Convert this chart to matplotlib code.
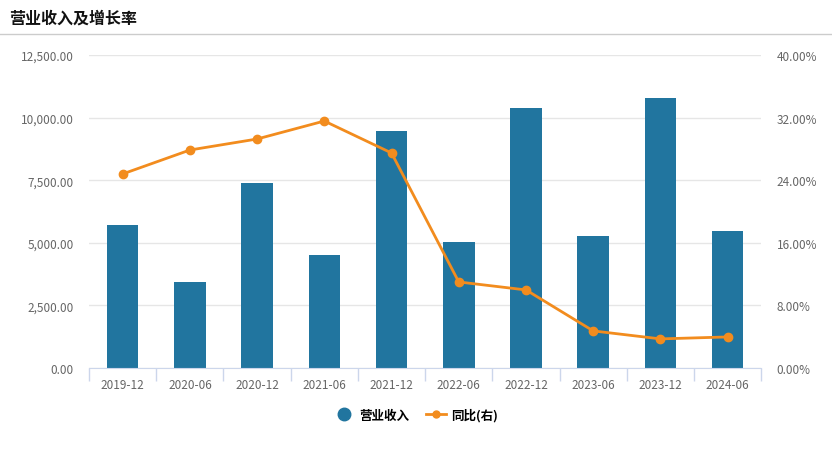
import numpy as np
import matplotlib.pyplot as plt
from matplotlib.lines import Line2D
from matplotlib.ticker import FuncFormatter, FixedLocator

plt.rcParams['font.family'] = ['Noto Sans CJK SC', 'DejaVu Sans']

periods = ['2019-12', '2020-06', '2020-12', '2021-06', '2021-12',
           '2022-06', '2022-12', '2023-06', '2023-12', '2024-06']
revenue = [5710, 3435, 7390, 4510, 9465, 5030, 10385, 5270, 10780, 5470]
growth = [24.8, 27.86, 29.27, 31.57, 27.48, 10.99, 9.97, 4.73, 3.71, 3.96]

bar_color = '#21759f'
line_color = '#f28c1e'
tick_color = '#666666'
axis_color = '#ccd6eb'

fig = plt.figure(figsize=(8.32, 4.56), dpi=100)
ax = fig.add_axes([0.107, 0.191, 0.808, 0.686])
x = np.arange(len(periods))

ax.bar(x, revenue, width=0.47, color=bar_color, zorder=2)
ax.set_xlim(-0.5, len(periods) - 0.5)
ax.set_ylim(0, 12500)
ax.set_yticks(np.arange(0, 12501, 2500))
ax.yaxis.set_major_formatter(FuncFormatter(lambda v, p: f'{v:,.2f}'))
ax.grid(axis='y', color='#e6e6e6', lw=1, zorder=0)
ax.set_axisbelow(True)

ax.set_xticks(x)
ax.set_xticklabels(periods)
ax.xaxis.set_minor_locator(FixedLocator(np.arange(-0.5, len(periods), 1)))
ax.tick_params(axis='x', which='major', length=0, pad=7, labelsize=8.5, labelcolor=tick_color)
ax.tick_params(axis='x', which='minor', length=9, color=axis_color, width=1)
ax.tick_params(axis='y', length=0, pad=11, labelsize=8.5, labelcolor=tick_color)
for s in ['top', 'right', 'left']:
    ax.spines[s].set_visible(False)
ax.spines['bottom'].set_color(axis_color)

ax2 = ax.twinx()
ax2.plot(x, growth, '-o', color=line_color, lw=2, markersize=6, zorder=3)
ax2.set_ylim(0, 40)
ax2.set_yticks(np.arange(0, 40.1, 8))
ax2.yaxis.set_major_formatter(FuncFormatter(lambda v, p: f'{v:.2f}%'))
ax2.tick_params(axis='y', length=0, pad=11, labelsize=8.5, labelcolor=tick_color)
for s in ['top', 'right', 'left', 'bottom']:
    ax2.spines[s].set_visible(False)

fig.text(0.011, 0.96, '营业收入及增长率', fontsize=11.5, fontweight='bold',
         color='#111111', va='center', ha='left')
fig.add_artist(Line2D([0, 1], [0.924, 0.924], color='#cccccc', lw=1,
                      transform=fig.transFigure))

handles = [Line2D([], [], ls='none', marker='o', markersize=9, color=bar_color),
           Line2D([], [], ls='-', marker='o', markersize=5, lw=2, color=line_color)]
fig.legend(handles, ['营业收入', '同比(右)'], loc='center', bbox_to_anchor=(0.5, 0.088),
           ncol=2, frameon=False, fontsize=9, handlelength=1.6, columnspacing=1.3,
           handletextpad=0.4, prop={'size': 9, 'weight': 'bold'})

fig.savefig('out.png', dpi=100)
